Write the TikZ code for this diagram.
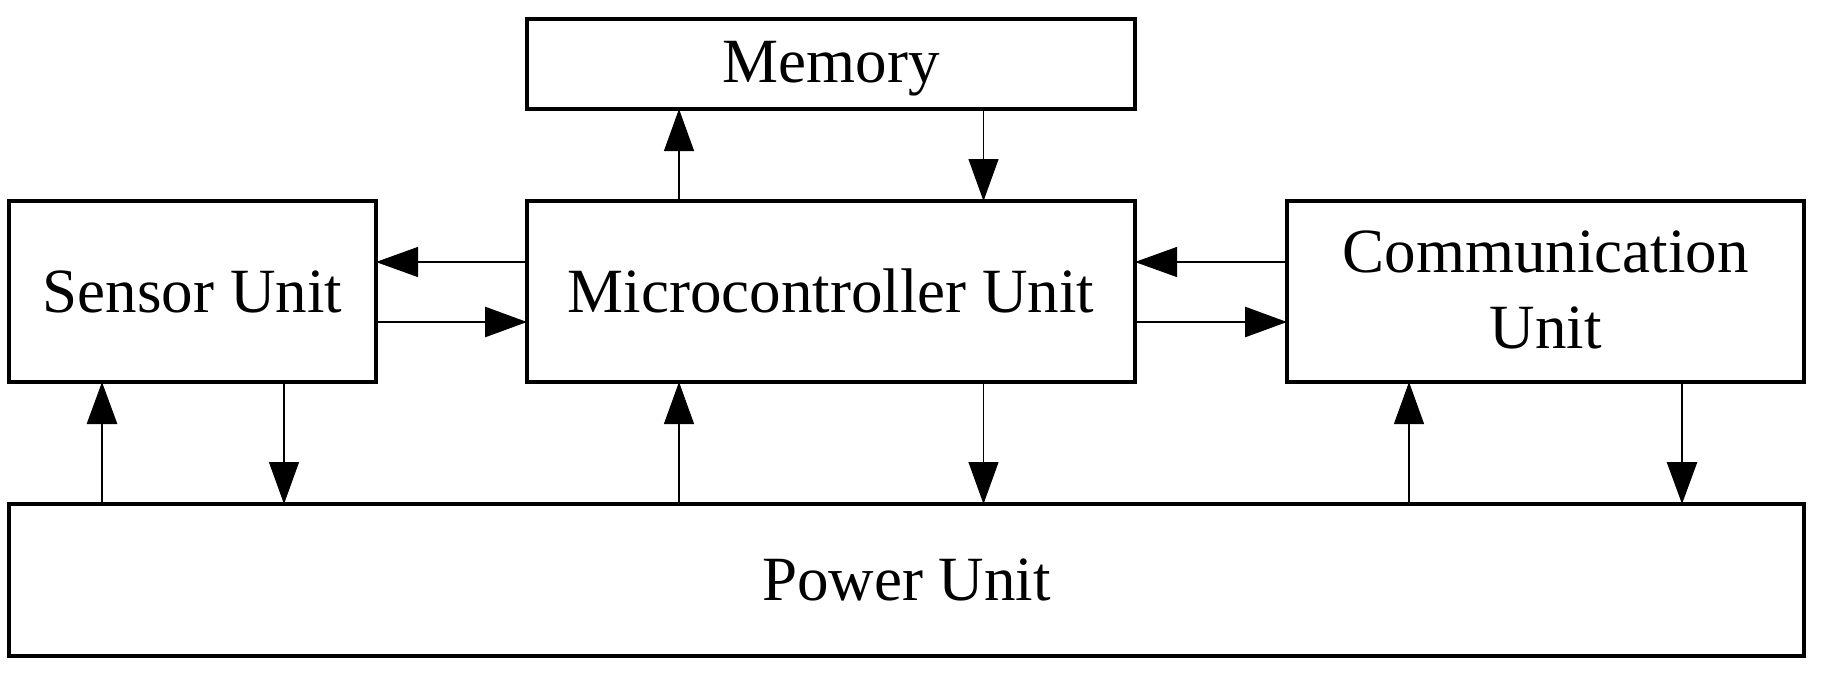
\documentclass[tikz,border=0pt]{standalone}
\usepackage{fontspec}
\setmainfont{Liberation Serif}
\usetikzlibrary{arrows.meta}
\begin{document}
\begin{tikzpicture}[x=0.5pt,y=-0.5pt,
  box/.style={draw=black,line width=1.6pt,inner sep=0pt,outer sep=0pt,rectangle},
  lbl/.style={anchor=base,inner sep=0pt,font=\fontsize{31.5}{38}\selectfont},
  tip/.style={-{Triangle[length=21pt,width=15pt]}},
  thinarr/.style={tip,line width=0.55pt},
  thickarr/.style={tip,line width=1.4pt}]
\useasboundingbox (0,0) rectangle (1825,675);
% boxes
\node[box,minimum width=304pt,minimum height=45pt] (memory) at (831,64) {};
\node[box,minimum width=183.5pt,minimum height=90.5pt] (sensor) at (192.5,291.5) {};
\node[box,minimum width=304pt,minimum height=90.5pt] (micro) at (831,291.5) {};
\node[box,minimum width=258.5pt,minimum height=90.5pt] (comm) at (1545.5,291.5) {};
\node[box,minimum width=897.5pt,minimum height=76pt] (power) at (906.5,580) {};
% labels
\node[lbl] (tmem) at (831,82) {Memory};
\node[lbl] (tsen) at (192.5,312) {Sensor Unit};
\node[lbl] (tmic) at (831,312) {Microcontroller Unit};
\node[lbl] (tcom1) at (1545.5,272) {Communication};
\node[lbl] (tcom2) at (1545.5,348) {Unit};
\node[lbl] (tpow) at (906.5,600) {Power Unit};
% guide coordinates
\coordinate (xa) at (679,0);
\coordinate (xb) at (983.5,0);
\coordinate (xs1) at (102,0);
\coordinate (xs2) at (284,0);
\coordinate (xc1) at (1409,0);
\coordinate (xc2) at (1682,0);
\coordinate (ya) at (0,262);
\coordinate (yb) at (0,322);
% memory links
\draw[thinarr] (micro.north -| xa) -- (memory.south -| xa);
\draw[thinarr] (memory.south -| xb) -- (micro.north -| xb);
% sensor <-> micro
\draw[thinarr] (micro.west |- ya) -- (sensor.east |- ya);
\draw[thickarr] (sensor.east |- yb) -- (micro.west |- yb);
% comm <-> micro
\draw[thinarr] (comm.west |- ya) -- (micro.east |- ya);
\draw[thickarr] (micro.east |- yb) -- (comm.west |- yb);
% power links
\draw[thickarr] (power.north -| xs1) -- (sensor.south -| xs1);
\draw[thinarr] (sensor.south -| xs2) -- (power.north -| xs2);
\draw[thinarr] (power.north -| xa) -- (micro.south -| xa);
\draw[thinarr] (micro.south -| xb) -- (power.north -| xb);
\draw[thinarr] (power.north -| xc1) -- (comm.south -| xc1);
\draw[thickarr] (comm.south -| xc2) -- (power.north -| xc2);
\end{tikzpicture}
\end{document}
